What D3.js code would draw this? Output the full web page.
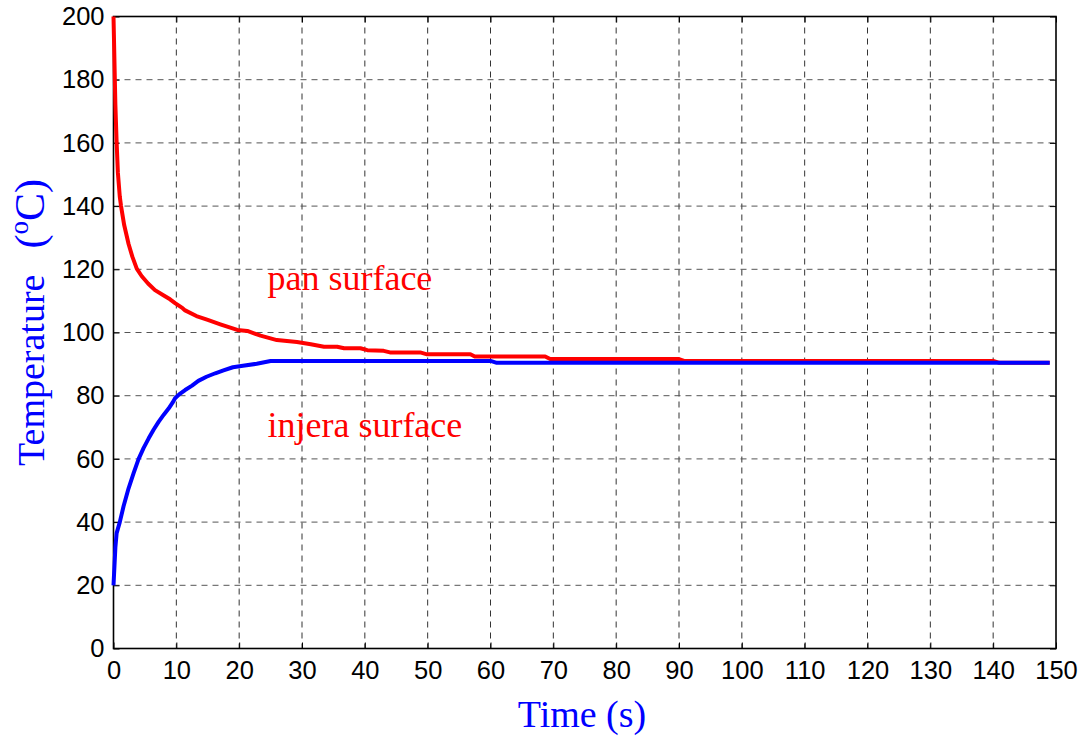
<!DOCTYPE html>
<html><head><meta charset="utf-8">
<script src="https://cdn.jsdelivr.net/npm/d3@7"></script>
<style>body{margin:0;background:#fff;}</style>
</head><body>
<svg id="c" width="1089" height="738"></svg>
<script>
const panTime = [0,0.3,0.5,0.7,1.0,1.2,1.7,2.4,3.0,3.7,4.5,5.5,6.6,8,9,9.8,11,11.4,13.2,15,17,19.7,21.3,23.4,26,29.2,31.4,33.5,35.6,36.7,39.3,40.4,43,44,48.8,49.9,56.8,57.5,68.7,69.5,90,90.8,140,141,149];
const panTemp = [200,172,160,150.5,143,140,134,128,124,120.2,117.8,115.5,113.4,111.7,110.5,109.3,107.7,107,105.2,104,102.6,100.8,100.5,99,97.6,97,96.3,95.5,95.5,95,95,94.4,94.2,93.7,93.7,93.1,93.1,92.4,92.4,91.6,91.6,91,91,90.4,90.4];
const injeraTime = [0,0.3,0.5,1.0,1.6,2.4,3.2,4,4.8,5.6,6.4,7.2,8,8.8,9.4,9.8,10.5,11.4,12.5,13.5,14.8,16.2,17.5,19,20.6,22.8,25,60,61,149];
const injeraTemp = [20,32,36.5,40,45,50.7,55.5,60,63.5,66.5,69.3,71.8,74,76,77.8,79.2,80.5,81.8,83.2,84.7,86,87.1,88,89,89.5,90.1,91,91,90.4,90.4];
const xTicks = [0,10,20,30,40,50,60,70,80,90,100,110,120,130,140,150];
const yTicks = [0,20,40,60,80,100,120,140,160,180,200];

const svg = d3.select("#c");
const L = 113.5, R = 1056, T = 16.5, B = 648.5;
const x = d3.scaleLinear().domain([0,150]).range([L,R]);
const y = d3.scaleLinear().domain([0,200]).range([B,T]);

// grid
const g = svg.append("g");
g.selectAll(".vg").data(xTicks.slice(1,-1)).join("line")
  .attr("x1",d=>x(d)).attr("x2",d=>x(d)).attr("y1",T).attr("y2",B)
  .attr("stroke","#333").attr("stroke-width",1).attr("stroke-dasharray","6,5");
g.selectAll(".hg").data(yTicks.slice(1,-1)).join("line")
  .attr("x1",L).attr("x2",R).attr("y1",d=>y(d)).attr("y2",d=>y(d))
  .attr("stroke","#555").attr("stroke-width",1).attr("stroke-dasharray","6,5");

// axes
const xAxis = d3.axisBottom(x).tickValues(xTicks).tickSize(-6).tickPadding(12).tickFormat(d3.format("d"));
const yAxis = d3.axisLeft(y).tickValues(yTicks).tickSize(-6).tickPadding(9).tickFormat(d3.format("d"));
const ax = svg.append("g").attr("transform",`translate(0,${B})`).call(xAxis);
const ay = svg.append("g").attr("transform",`translate(${L},0)`).call(yAxis);
svg.append("g").attr("transform",`translate(0,${T})`).call(d3.axisTop(x).tickValues(xTicks).tickSize(-6).tickFormat(""));
svg.append("g").attr("transform",`translate(${R},0)`).call(d3.axisRight(y).tickValues(yTicks).tickSize(-6).tickFormat(""));
svg.selectAll(".domain").remove();
svg.selectAll(".tick line").attr("stroke","#000").attr("stroke-width",1);
[ax,ay].forEach(a=>a.selectAll("text").attr("font-family","Liberation Sans, Arial, sans-serif").attr("font-size",25.5).attr("fill","#000"));

svg.append("rect").attr("x",L).attr("y",T).attr("width",R-L).attr("height",B-T)
  .attr("fill","none").attr("stroke","#000").attr("stroke-width",1.6);

// lines
const line = d3.line().x(d=>x(d[0])).y(d=>y(d[1]));
svg.append("path").datum(d3.zip(panTime,panTemp)).attr("d",line)
  .attr("fill","none").attr("stroke","#ff0000").attr("stroke-width",4).attr("stroke-linejoin","round");
svg.append("path").datum(d3.zip(injeraTime,injeraTemp)).attr("d",line)
  .attr("fill","none").attr("stroke","#0000ff").attr("stroke-width",4).attr("stroke-linejoin","round");

// annotations
const serif = "Liberation Serif, Times New Roman, serif";
svg.append("text").attr("x",x(24.5)).attr("y",y(113.5)).text("pan surface")
  .attr("font-family",serif).attr("font-size",36).attr("fill","#ff0000");
svg.append("text").attr("x",x(24.5)).attr("y",y(66.8)).text("injera surface")
  .attr("font-family",serif).attr("font-size",36).attr("fill","#ff0000");

svg.append("text").attr("x",582).attr("y",727).attr("text-anchor","middle").text("Time (s)")
  .attr("font-family",serif).attr("font-size",38).attr("fill","#0000ff");

const yl = svg.append("text").attr("transform","translate(44,466) rotate(-90)").attr("text-anchor","start")
  .attr("font-family",serif).attr("font-size",38).attr("fill","#0000ff");
yl.append("tspan").text("Temperature");
yl.append("tspan").text("(").attr("dx",26).attr("font-size",42);
yl.append("tspan").text("o").attr("font-size",27).attr("dy",-16);
yl.append("tspan").text("C)").attr("dy",16).attr("font-size",42);
</script>
</body></html>
